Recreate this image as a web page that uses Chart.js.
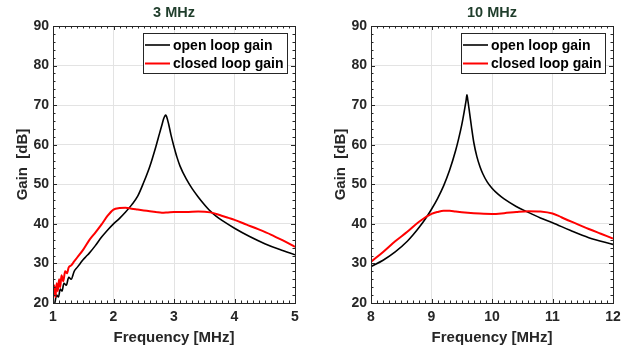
<!DOCTYPE html>
<html>
<head>
<meta charset="utf-8">
<script src="https://cdn.jsdelivr.net/npm/chart.js@4"></script>
<style>
  html, body { margin:0; padding:0; background:#fff; }
  body { width:627px; height:349px; position:relative; overflow:hidden; }
  canvas { position:absolute; top:0; }
  #c3 { left:0; }
  #c10 { left:318px; }
</style>
</head>
<body>
<canvas id="c3" width="309" height="349"></canvas>
<canvas id="c10" width="309" height="349"></canvas>
<script>
// 3 MHz panel
const open3X = [1.03,1.06,1.09,1.12,1.15,1.18,1.22,1.26,1.30,1.35,1.40,1.45,1.50,1.55,1.60,1.70,1.80,1.90,2.00,2.10,2.20,2.30,2.40,2.50,2.60,2.70,2.76,2.80,2.83,2.85,2.863,2.88,2.91,2.95,3.00,3.05,3.10,3.20,3.30,3.40,3.50,3.60,3.70,3.80,4.00,4.25,4.50,4.75,5.00];
const open3Y = [20,22,21.5,23.5,23,25,24.5,26.5,26,28,29,30,31,31.8,32.6,34.5,36.6,38.4,40,41.4,43,44.8,47,50.5,54.5,59.5,62.8,65,66.6,67.3,67.5,67,65.3,62.5,59.5,56.8,54.6,51.4,48.9,46.8,44.9,43.2,41.9,40.8,38.9,36.8,35,33.5,32.2];
const closed3X = [1.00,1.02,1.04,1.06,1.08,1.10,1.12,1.14,1.17,1.20,1.23,1.26,1.30,1.35,1.40,1.50,1.60,1.70,1.80,1.90,2.00,2.10,2.20,2.30,2.40,2.50,2.60,2.70,2.80,2.90,3.00,3.20,3.40,3.60,3.70,3.80,3.90,4.00,4.20,4.40,4.60,4.80,5.00];
const closed3Y = [21,24.5,21.5,25,23,26,24,27,25.5,28,27.5,29,29.5,30.5,31.5,33.5,35.9,37.8,39.8,42,43.6,44,44.1,43.8,43.6,43.4,43.2,43,42.8,42.9,43,43,43.1,42.9,42.5,42,41.5,41,39.8,38.6,37.3,35.8,34.2];

// 10 MHz panel
const open10X = [8.0,8.2,8.4,8.6,8.7,8.8,8.9,9.0,9.1,9.2,9.3,9.4,9.45,9.5,9.54,9.57,9.586,9.60,9.63,9.66,9.70,9.75,9.80,9.85,9.92,10.0,10.1,10.2,10.4,10.6,10.8,11.0,11.3,11.6,12.0];
const open10Y = [29.2,30.8,32.9,35.6,37.3,39.2,41.3,43.7,46.4,49.6,53.6,58.6,61.6,65,68.3,71,72.6,71.3,68,64.6,60.5,57,54.5,52.6,50.6,49,47.5,46.3,44.4,42.9,41.5,40.3,38.3,36.5,34.8];
const closed10X = [8.0,8.2,8.4,8.6,8.8,9.0,9.1,9.2,9.3,9.4,9.6,9.8,10.0,10.2,10.4,10.6,10.8,11.0,11.1,11.2,11.4,11.6,11.8,12.0];
const closed10Y = [30.4,32.9,35.6,38,40.6,42.5,43,43.3,43.3,43.1,42.8,42.6,42.5,42.7,43,43.2,43.1,42.6,42,41.3,40,38.7,37.5,36.3];

const yTicks = [20, 90, 10];
const legendLabels = ['open loop gain', 'closed loop gain'];
const FONT = '"Liberation Sans", Arial, Helvetica, sans-serif';
const TXT = '#262626';

const pts = (xs, ys) => xs.map((x, i) => ({ x, y: ys[i] }));

// box, inward ticks (major + minor), title and legend
const framePlugin = {
  id: 'frame',
  afterDraw(chart, args, o) {
    const { ctx, chartArea: a, scales: { x, y } } = chart;
    ctx.save();
    ctx.strokeStyle = '#262626'; ctx.lineWidth = 1;
    ctx.strokeRect(Math.round(a.left) + .5, Math.round(a.top) + .5, Math.round(a.right - a.left), Math.round(a.bottom - a.top));
    ctx.beginPath();
    const nx = Math.round((o.xmax - o.xmin) / 0.1);
    for (let i = 0; i <= nx; i++) {
      const px = Math.round(x.getPixelForValue(o.xmin + i * 0.1)) + .5;
      const len = i % 10 === 0 ? 4 : 2.5;
      ctx.moveTo(px, a.bottom); ctx.lineTo(px, a.bottom - len);
      ctx.moveTo(px, a.top); ctx.lineTo(px, a.top + len);
    }
    for (let v = yTicks[0]; v <= yTicks[1]; v += 2) {
      const py = Math.round(y.getPixelForValue(v)) + .5;
      const len = v % 10 === 0 ? 4 : 2.5;
      ctx.moveTo(a.left, py); ctx.lineTo(a.left + len, py);
      ctx.moveTo(a.right, py); ctx.lineTo(a.right - len, py);
    }
    ctx.stroke();

    // title
    ctx.fillStyle = '#1f3d2b';
    ctx.font = 'bold 14.5px ' + FONT;
    ctx.textAlign = 'center'; ctx.textBaseline = 'middle';
    ctx.fillText(o.title, (a.left + a.right) / 2, 13);

    // legend
    const w = 144, h = 40, bx = Math.round(a.right) - 8 - w, by = Math.round(a.top) + 7;
    ctx.fillStyle = '#fff';
    ctx.fillRect(bx, by, w, h);
    ctx.strokeStyle = '#262626'; ctx.lineWidth = 1;
    ctx.strokeRect(bx + .5, by + .5, w, h);
    ctx.font = 'bold 14px ' + FONT;
    ctx.textAlign = 'left';
    chart.data.datasets.forEach((ds, i) => {
      const ly = by + 12 + i * 18.5;
      ctx.strokeStyle = ds.borderColor; ctx.lineWidth = ds.borderWidth;
      ctx.beginPath(); ctx.moveTo(bx + 2, ly); ctx.lineTo(bx + 27, ly); ctx.stroke();
      ctx.fillStyle = '#000';
      ctx.fillText(ds.label, bx + 30, ly + 1);
    });
    ctx.restore();
  }
};

function makeChart(id, title, xmin, xmax, openData, closedData) {
  return new Chart(document.getElementById(id), {
    type: 'line',
    data: {
      datasets: [
        { label: legendLabels[0], data: openData, borderColor: '#000', borderWidth: 1.6, order: 1 },
        { label: legendLabels[1], data: closedData, borderColor: '#ff0000', borderWidth: 2, order: 0 },
      ],
    },
    options: {
      responsive: false, animation: false, devicePixelRatio: 1,
      layout: { padding: { top: 26, right: 14, left: 0, bottom: 0 } },
      elements: { point: { radius: 0 }, line: { cubicInterpolationMode: 'monotone' } },
      plugins: { legend: { display: false }, tooltip: { enabled: false },
        frame: { title, xmin, xmax } },
      scales: {
        x: {
          type: 'linear', min: xmin, max: xmax,
          afterFit: s => { s.height = 46; },
          ticks: { stepSize: 1, color: TXT, padding: 6, font: { family: FONT, size: 14, weight: 'bold' } },
          grid: { color: '#e3e3e3', drawTicks: false },
          border: { display: false },
          title: { display: true, text: 'Frequency [MHz]', color: TXT, padding: { top: 0, bottom: 2 },
            font: { family: FONT, size: 15, weight: 'bold' } },
        },
        y: {
          type: 'linear', min: yTicks[0], max: yTicks[1],
          afterFit: s => { s.width = 53; },
          ticks: { stepSize: yTicks[2], color: TXT, padding: 4, font: { family: FONT, size: 14, weight: 'bold' } },
          grid: { color: '#e3e3e3', drawTicks: false },
          border: { display: false },
          title: { display: true, text: 'Gain  [dB]', color: TXT, padding: { top: 14, bottom: 0 },
            font: { family: FONT, size: 15, weight: 'bold' } },
        },
      },
    },
    plugins: [framePlugin],
  });
}

makeChart('c3', '3 MHz', 1, 5, pts(open3X, open3Y), pts(closed3X, closed3Y));
makeChart('c10', '10 MHz', 8, 12, pts(open10X, open10Y), pts(closed10X, closed10Y));
</script>
</body>
</html>
